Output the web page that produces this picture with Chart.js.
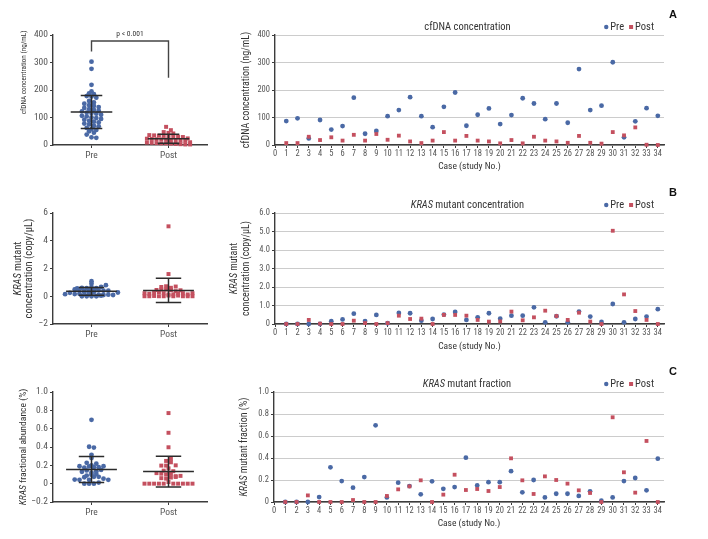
<!DOCTYPE html>
<html>
<head>
<meta charset="utf-8">
<script src="https://cdn.jsdelivr.net/npm/chart.js@4.4.1/dist/chart.umd.min.js"></script>
<style>
  body { margin: 0; background: #fff; }
  #fig { position: relative; width: 708px; height: 539px; }
  .p { position: absolute; }
</style>
</head>
<body>
<div id="fig">
  <div class="p" style="left:0;top:0;width:215px;height:178px"><canvas id="aLeft"></canvas></div>
  <div class="p" style="left:215px;top:0;width:493px;height:178px"><canvas id="aRight"></canvas></div>
  <div class="p" style="left:0;top:178px;width:215px;height:178px"><canvas id="bLeft"></canvas></div>
  <div class="p" style="left:215px;top:178px;width:493px;height:178px"><canvas id="bRight"></canvas></div>
  <div class="p" style="left:0;top:356px;width:215px;height:183px"><canvas id="cLeft"></canvas></div>
  <div class="p" style="left:215px;top:356px;width:493px;height:183px"><canvas id="cRight"></canvas></div>
</div>
<script>
// ---- data ----
const CASES = [1, 2, 3, 4, 5, 6, 7, 8, 9, 10, 11, 12, 13, 14, 15, 16, 17,
  18, 19, 20, 21, 22, 23, 24, 25, 26, 27, 28, 29, 30, 31, 32, 33, 34];
const GROUPS = ['Pre', 'Post'];
const X_TITLE = 'Case (study No.)';

// cfDNA concentration (ng/mL), all patients (dot plot)
const cfdnaAllPre = [303, 277, 219, 195, 188, 185, 178, 176, 172, 160, 155, 150, 145, 142, 138,
  135, 130, 128, 125, 122, 118, 116, 114, 110, 106, 104, 100, 98, 95, 92, 88, 85, 82, 78, 75,
  70, 68, 62, 58, 55, 50, 45, 38, 28, 26];
const cfdnaAllPost = [66, 54, 47, 44, 42, 36, 35, 34, 33, 32, 31, 30, 29, 24, 23, 22, 21, 20, 19,
  18, 17, 16, 15, 10, 9, 8, 7, 6, 6, 5, 4, 3, 2, 2];
const P_BRACKET = [340, 378, 378, 245];
const P_TEXT = 'p < 0.001';

// cfDNA concentration per case
const cfdnaPre = [87, 97, 24, 91, 56, 69, 172, 41, 51, 105, 127, 174, 105, 65, 139, 191, 70,
  110, 133, 76, 109, 170, 151, 94, 151, 81, 276, 127, 143, 301, 28, 86, 134, 106];
const cfdnaPost = [7, 7, 30, 18, 28, 16, 37, 16, 40, 19, 34, 13, 7, 16, 47, 16, 33,
  16, 13, 6, 18, 6, 30, 16, 13, 8, 33, 8, 5, 47, 35, 64, 1, 0];

// KRAS mutant concentration (copy/uL) per case
const krasPre = [0, 0, 0, 0, 0.15, 0.25, 0.56, 0.16, 0.49, 0.04, 0.6, 0.58, 0.18, 0.27, 0.51, 0.65, 0.22,
  0.36, 0.58, 0.29, 0.45, 0.45, 0.9, 0.09, 0.42, 0.09, 0.67, 0.4, 0.11, 1.08, 0.09, 0.27, 0.4, 0.8];
const krasPost = [0, 0, 0.22, 0.02, 0, 0, 0.18, 0.05, 0, 0.05, 0.45, 0.27, 0.29, 0, 0.49, 0.49, 0.45,
  0.22, 0.13, 0.14, 0.67, 0.2, 0.36, 0.72, 0.43, 0.22, 0.61, 0.13, 0, 5.04, 1.6, 0.7, 0.22, 0];

// KRAS mutant fraction (%) per case
const fracPre = [0, 0, 0, 0.045, 0.315, 0.19, 0.13, 0.227, 0.697, 0.042, 0.176, 0.145, 0.07, 0.188, 0.12, 0.136, 0.403,
  0.15, 0.18, 0.18, 0.28, 0.088, 0.2, 0.042, 0.075, 0.075, 0.055, 0.097, 0.012, 0.042, 0.19, 0.218, 0.106, 0.394];
const fracPost = [0, 0, 0.06, 0, 0, 0, 0.018, 0, 0, 0.055, 0.115, 0.142, 0.197, 0, 0.067, 0.248, 0.109,
  0.118, 0.1, 0.136, 0.397, 0.197, 0.073, 0.233, 0.2, 0.167, 0.106, 0.082, 0, 0.77, 0.27, 0.085, 0.555, 0];

// ---- style ----
const FONT = '"Roboto Condensed", "Liberation Sans", sans-serif';
const BOLD = '"Liberation Sans", Arial, sans-serif';
const BLUE = '#4a69a5', RED = '#c4505f';
const AXIS = '#3c3c3c', GRID = '#cccccc', TICK = '#555555', INK = '#333333';

Chart.defaults.font.family = FONT;
Chart.defaults.color = TICK;
Chart.defaults.animation = false;

// segments like [['KRAS', true], [' mutant', false]] -> italic where true
function richText(ctx, segs, x, y, size, align) {
  const fonts = segs.map(s => (s[1] ? 'italic ' : '') + size + 'px ' + FONT);
  const widths = segs.map((s, i) => { ctx.font = fonts[i]; return ctx.measureText(s[0]).width; });
  const total = widths.reduce((a, b) => a + b, 0);
  let cx = align === 'center' ? x - total / 2 : x;
  ctx.textAlign = 'left';
  segs.forEach((s, i) => { ctx.font = fonts[i]; ctx.fillText(s[0], cx, y); cx += widths[i]; });
}

const decor = {
  id: 'decor',
  afterDraw(chart, args, o) {
    const { ctx, chartArea: a } = chart;
    ctx.save();
    ctx.textBaseline = 'middle';
    ctx.fillStyle = INK;
    (o.yTitle || []).forEach((line, i) => {
      ctx.save();
      ctx.translate(a.left - o.yTitleX[i], a.top + (a.bottom - a.top) * (o.yTitleMid ?? 0.5));
      ctx.rotate(-Math.PI / 2);
      richText(ctx, line, 0, 0, o.yTitleSize, 'center');
      ctx.restore();
    });
    if (o.title) richText(ctx, o.title, (a.left + a.right) / 2 - 2, a.top - 8, 10.5, 'center');
    if (o.legend) {
      const items = chart.data.datasets.filter(d => d.label);
      ctx.font = '10.5px ' + FONT;
      const ws = items.map(d => ctx.measureText(d.label).width);
      const total = ws.reduce((s, w) => s + w + 4, 0) + 7 * (items.length - 1);
      let x = a.right - 10 - total;
      const y = a.top - 8;
      items.forEach((d, i) => {
        ctx.fillStyle = d.backgroundColor;
        if (d.pointStyle === 'rect') ctx.fillRect(x - 2, y - 2, 4, 4);
        else { ctx.beginPath(); ctx.arc(x, y, 2.2, 0, Math.PI * 2); ctx.fill(); }
        ctx.fillStyle = INK;
        ctx.font = '10.5px ' + FONT;
        ctx.textAlign = 'left';
        ctx.fillText(d.label, x + 4, y);
        x += 4 + ws[i] + 7;
      });
    }
    if (o.pText) {
      const xs = chart.scales.x, ys = chart.scales.y;
      ctx.font = '7.5px ' + FONT;
      ctx.textAlign = 'center';
      ctx.fillText(o.pText, (xs.getPixelForValue(1) + xs.getPixelForValue(2)) / 2, ys.getPixelForValue(o.pY) - 7);
    }
    if (o.letter) {
      ctx.fillStyle = '#111';
      ctx.font = 'bold 11px ' + BOLD;
      ctx.textAlign = 'left';
      ctx.fillText(o.letter, a.right + 5, a.top - 20);
    }
    ctx.restore();
  }
};

function meanSd(v) {
  const m = v.reduce((s, x) => s + x, 0) / v.length;
  const sd = Math.sqrt(v.reduce((s, x) => s + (x - m) ** 2, 0) / (v.length - 1));
  return [m, sd];
}

function errorBars(groups, mw, sw) {
  const pts = [];
  groups.forEach((v, g) => {
    const c = g + 1, [m, sd] = meanSd(v);
    pts.push({ x: c - mw, y: m }, { x: c + mw, y: m }, { x: c, y: null },
      { x: c - sw, y: m + sd }, { x: c + sw, y: m + sd }, { x: c, y: null },
      { x: c - sw, y: m - sd }, { x: c + sw, y: m - sd }, { x: c, y: null },
      { x: c, y: m - sd }, { x: c, y: m + sd }, { x: c, y: null });
  });
  return pts;
}

// dot plot layout: group values into rows of similar pixel height, centre each row
function swarm(chart, dx, dy) {
  const xs = chart.scales.x, ys = chart.scales.y;
  chart.data.datasets.forEach(ds => {
    if (!ds.values) return;
    const cx = xs.getPixelForValue(ds.center);
    const rows = new Map();
    ds.values.forEach(v => {
      const r = Math.round(ys.getPixelForValue(v) / dy);
      if (!rows.has(r)) rows.set(r, []);
      rows.get(r).push(v);
    });
    ds.data = [];
    rows.forEach(vals => {
      vals.forEach((v, j) => {
        const px = cx + (j - (vals.length - 1) / 2) * dx;
        ds.data.push({ x: xs.getValueForPixel(px), y: v });
      });
    });
  });
  chart.update('none');
}

function yAxis(o) {
  return {
    type: 'linear', min: o.min, max: o.max, bounds: 'data',
    ticks: { stepSize: o.step, callback: o.fmt, font: { size: o.fs }, color: TICK, padding: 2 },
    grid: { drawOnChartArea: !!o.grid, color: GRID, lineWidth: 1, tickLength: 3, tickColor: AXIS },
    border: { color: AXIS, width: 1.4 },
    afterFit: s => { s.width = o.w; }
  };
}

function fmtSigned(d) {
  return v => Math.abs(v) < 1e-9 ? '0' : (v < 0 ? '\u2212' : '') + Math.abs(v).toFixed(d);
}

function leftChart(id, o) {
  const [pre, post] = o.groups;
  const datasets = [
    { type: 'line', data: errorBars(o.groups, o.mw, o.sw), borderColor: '#2b2b2b', borderWidth: 1.5,
      pointRadius: 0, order: 0, clip: false },
    { label: GROUPS[0], values: pre, center: 1, data: pre.map(v => ({ x: 1, y: v })),
      backgroundColor: BLUE, borderColor: BLUE, pointStyle: 'circle', pointRadius: 2.4, pointBorderWidth: 0, order: 2, clip: false },
    { label: GROUPS[1], values: post, center: 2, data: post.map(v => ({ x: 2, y: v })),
      backgroundColor: RED, borderColor: RED, pointStyle: 'rect', pointRadius: 2.8, pointBorderWidth: 0, order: 1, clip: false }
  ];
  if (o.bracket) {
    const bx = [1, 1, 2, 2];
    datasets.push({ type: 'line', data: o.bracket.map((y, i) => ({ x: bx[i], y })), borderColor: '#444',
      borderWidth: 1.4, pointRadius: 0, order: 0, clip: false });
  }
  const chart = new Chart(document.getElementById(id), {
    type: 'scatter',
    data: { datasets },
    options: {
      responsive: true, maintainAspectRatio: false, events: [],
      layout: { padding: { top: o.top, right: 8, left: 0, bottom: 0 } },
      plugins: {
        legend: { display: false }, tooltip: { enabled: false },
        decor: { yTitle: o.yTitle, yTitleX: o.yTitleX, yTitleSize: o.yTitleSize, yTitleMid: o.yTitleMid,
          pText: o.bracket ? P_TEXT : null, pY: o.bracket ? o.bracket[1] : null }
      },
      scales: {
        x: {
          type: 'linear', min: 0.5, max: 2.5, bounds: 'data',
          afterBuildTicks: s => { s.ticks = [{ value: 1 }, { value: 2 }]; },
          ticks: { callback: v => GROUPS[v - 1], font: { size: 9.5 }, color: TICK, padding: 2, autoSkip: false, maxRotation: 0 },
          grid: { drawOnChartArea: false, tickLength: 3, tickColor: AXIS },
          border: { color: AXIS, width: 1.4 },
          afterFit: s => { s.height = o.xh; }
        },
        y: yAxis({ min: o.min, max: o.max, step: o.step, fmt: o.fmt, fs: 9.5, w: 53 })
      }
    },
    plugins: [decor]
  });
  swarm(chart, o.dx, o.dy);
  return chart;
}

function rightChart(id, o) {
  return new Chart(document.getElementById(id), {
    type: 'scatter',
    data: {
      datasets: [
        { label: GROUPS[0], data: CASES.map((c, i) => ({ x: c, y: o.pre[i] })), backgroundColor: BLUE, borderColor: BLUE,
          pointStyle: 'circle', pointRadius: 2.4, pointBorderWidth: 0, order: 2, clip: false },
        { label: GROUPS[1], data: CASES.map((c, i) => ({ x: c, y: o.post[i] })), backgroundColor: RED, borderColor: RED,
          pointStyle: 'rect', pointRadius: 2.7, pointBorderWidth: 0, order: 1, clip: false }
      ]
    },
    options: {
      responsive: true, maintainAspectRatio: false, events: [],
      layout: { padding: { top: o.top, right: 44, left: 0, bottom: 0 } },
      plugins: {
        legend: { display: false }, tooltip: { enabled: false },
        decor: { yTitle: o.yTitle, yTitleX: o.yTitleX, yTitleSize: 10, title: o.title, legend: true, letter: o.letter }
      },
      scales: {
        x: {
          type: 'linear', min: 0, max: 34.55, bounds: 'data',
          ticks: { stepSize: 1, includeBounds: false, autoSkip: false, maxRotation: 0, font: { size: 8.5 }, color: TICK, padding: 1,
            callback: v => Number.isInteger(v) ? String(v) : '' },
          grid: { drawOnChartArea: false, tickLength: 3, tickColor: AXIS },
          border: { color: AXIS, width: 1.4 },
          title: { display: true, text: X_TITLE, color: INK, font: { size: 9.5 }, padding: { top: 0, bottom: o.tpad } },
          afterFit: s => { s.height = o.xh; }
        },
        y: yAxis({ min: o.min, max: o.max, step: o.step, fmt: o.fmt, fs: 8.5, w: o.yw, grid: true })
      }
    },
    plugins: [decor]
  });
}

const CF_TITLE = [[['cfDNA concentration (ng/mL)', false]]];
const KRAS_CONC_TITLE = [[['KRAS', true], [' mutant', false]], [['concentration (copy/\u03bcL)', false]]];

leftChart('aLeft', {
  groups: [cfdnaAllPre, cfdnaAllPost], min: 0, max: 400, step: 100, fmt: v => String(v),
  top: 35, xh: 33, mw: 0.27, sw: 0.14, dx: 4.8, dy: 3.9, bracket: P_BRACKET,
  yTitle: CF_TITLE, yTitleX: [29], yTitleSize: 7.2, yTitleMid: 0.34
});
rightChart('aRight', {
  pre: cfdnaPre, post: cfdnaPost, min: 0, max: 400, step: 100, fmt: v => String(v),
  top: 35, xh: 33, yw: 60, tpad: 6, letter: 'A',
  title: [['cfDNA concentration', false]], yTitle: CF_TITLE, yTitleX: [29]
});
leftChart('bLeft', {
  groups: [krasPre, krasPost], min: -2, max: 6, step: 2, fmt: fmtSigned(0),
  top: 35, xh: 32, mw: 0.33, sw: 0.165, dx: 4.8, dy: 3.4,
  yTitle: KRAS_CONC_TITLE, yTitleX: [35, 24], yTitleSize: 10.5
});
rightChart('bRight', {
  pre: krasPre, post: krasPost, min: 0, max: 6, step: 1, fmt: fmtSigned(1),
  top: 35, xh: 32, yw: 60, tpad: 4, letter: 'B',
  title: [['KRAS', true], [' mutant concentration', false]], yTitle: KRAS_CONC_TITLE, yTitleX: [41, 29]
});
leftChart('cLeft', {
  groups: [fracPre, fracPost], min: -0.2, max: 1.0, step: 0.2, fmt: fmtSigned(1),
  top: 36, xh: 37, mw: 0.33, sw: 0.165, dx: 4.8, dy: 3.6,
  yTitle: [[['KRAS', true], [' fractional abundance (%)', false]]], yTitleX: [29], yTitleSize: 9.6
});
rightChart('cRight', {
  pre: fracPre, post: fracPost, min: 0, max: 1.0, step: 0.2, fmt: fmtSigned(1),
  top: 36, xh: 37, yw: 59, tpad: 10, letter: 'C',
  title: [['KRAS', true], [' mutant fraction', false]], yTitle: [[['KRAS', true], [' mutant fraction (%)', false]]], yTitleX: [30]
});
</script>
</body>
</html>
